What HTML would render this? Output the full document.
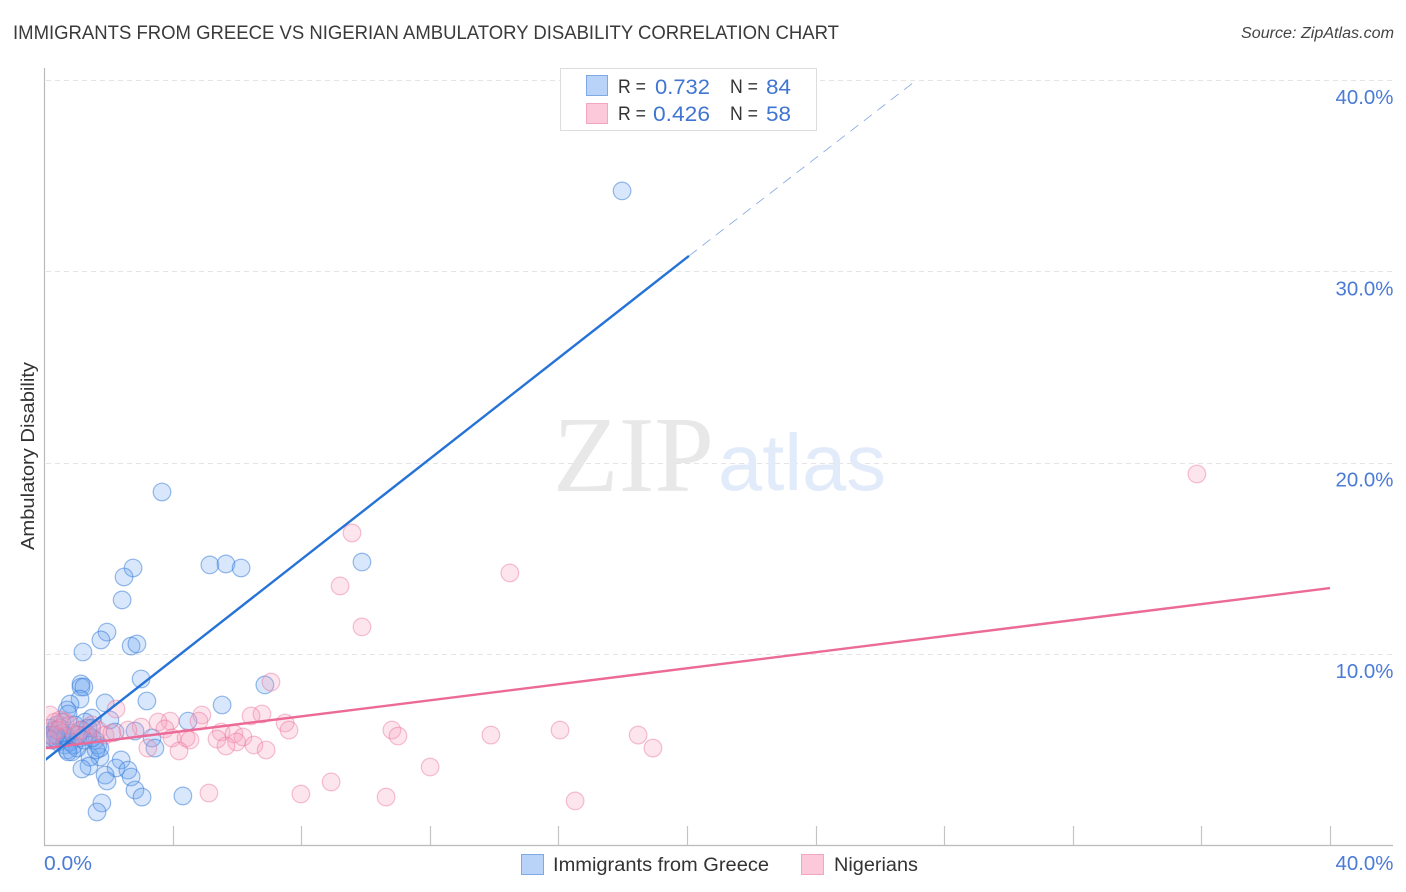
<!DOCTYPE html>
<html>
<head>
<meta charset="utf-8">
<title>Immigrants from Greece vs Nigerian Ambulatory Disability Correlation Chart</title>
<style>
html,body{margin:0;padding:0;background:#fff;}
svg{display:block;font-family:"Liberation Sans",sans-serif;}
</style>
</head>
<body>
<svg id="chart" xmlns="http://www.w3.org/2000/svg" width="1406" height="892" viewBox="0 0 1406 892">
  <defs><clipPath id="plot-clip"><rect x="46" y="60" width="1360" height="786"/></clipPath></defs>
  <rect x="0" y="0" width="1406" height="892" fill="#ffffff"/>
  <text x="13" y="39" font-size="19.5" fill="#3a3a3a" textLength="826" lengthAdjust="spacingAndGlyphs">IMMIGRANTS FROM GREECE VS NIGERIAN AMBULATORY DISABILITY CORRELATION CHART</text>
  <text x="1241" y="38" font-size="15.5" font-style="italic" fill="#444444" textLength="153" lengthAdjust="spacingAndGlyphs">Source: ZipAtlas.com</text>
  <g id="grid"></g>
  <g>
    <text x="553" y="491" font-family="'Liberation Serif',serif" font-size="108" fill="#e8e8e8" textLength="161" lengthAdjust="spacingAndGlyphs">ZIP</text>
    <text x="718" y="490" font-family="'Liberation Sans',sans-serif" font-size="80" fill="#e2ebfa" textLength="168" lengthAdjust="spacingAndGlyphs">atlas</text>
  </g>
  <g id="marks" clip-path="url(#plot-clip)"></g>
  <g id="axes"></g>
  <text transform="translate(34,456) rotate(-90)" font-size="18.5" fill="#333333" text-anchor="middle" textLength="188" lengthAdjust="spacingAndGlyphs">Ambulatory Disability</text>
  <g>
    <rect x="560.5" y="68.5" width="256" height="62" fill="#ffffff" stroke="#dddddd"/>
    <rect x="586.5" y="75.5" width="21" height="20" fill="#b8d3f7" stroke="#7fa9e6"/>
    <rect x="586.5" y="103.5" width="21" height="20" fill="#fcc9da" stroke="#f3a6c0"/>
    <text x="618" y="93" font-size="19" fill="#333333" textLength="28" lengthAdjust="spacingAndGlyphs">R =</text>
    <text x="655" y="94" font-size="21" fill="#4076d2" textLength="55" lengthAdjust="spacingAndGlyphs">0.732</text>
    <text x="730" y="93" font-size="19" fill="#333333" textLength="28" lengthAdjust="spacingAndGlyphs">N =</text>
    <text x="766" y="94" font-size="21" fill="#4076d2" textLength="25" lengthAdjust="spacingAndGlyphs">84</text>
    <text x="618" y="120" font-size="19" fill="#333333" textLength="28" lengthAdjust="spacingAndGlyphs">R =</text>
    <text x="653" y="121" font-size="21" fill="#4076d2" textLength="57" lengthAdjust="spacingAndGlyphs">0.426</text>
    <text x="730" y="120" font-size="19" fill="#333333" textLength="28" lengthAdjust="spacingAndGlyphs">N =</text>
    <text x="766" y="121" font-size="21" fill="#4076d2" textLength="25" lengthAdjust="spacingAndGlyphs">58</text>
  </g>
  <g>
    <rect x="521.5" y="854.5" width="22" height="20" fill="#b8d3f7" stroke="#7fa9e6"/>
    <text x="553" y="871" font-size="19" fill="#333333" textLength="216" lengthAdjust="spacingAndGlyphs">Immigrants from Greece</text>
    <rect x="801.5" y="854.5" width="22" height="20" fill="#fcc9da" stroke="#f3a6c0"/>
    <text x="834" y="871" font-size="19" fill="#333333" textLength="84" lengthAdjust="spacingAndGlyphs">Nigerians</text>
  </g>
</svg>
<script>
const yTickValues = [10, 20, 30, 40];
const yTickLabels = ["10.0%", "20.0%", "30.0%", "40.0%"];
const xTickValues = [4, 8, 12, 16, 20, 24, 28, 32, 36, 40];
const xEndValues = [0, 40];
const xEndLabels = ["0.0%", "40.0%"];
const greeceX = [17.98,3.67,9.89,5.16,5.66,6.13,2.77,2.49,2.43,1.96,1.77,2.71,2.89,1.21,3.02,6.87,1.15,1.15,1.24,1.12,3.2,1.9,5.54,0.81,0.72,0.75,4.48,2.05,1.49,3.36,3.45,2.21,2.83,2.4,1.74,1.43,2.24,1.4,1.18,2.61,2.71,1.9,1.96,2.83,3.05,4.32,1.8,1.65,0.19,0.25,0.34,0.4,0.5,0.56,0.65,0.72,0.81,0.87,0.96,1.03,1.12,1.18,1.28,1.37,1.49,1.59,1.68,1.74,1.62,1.37,0.93,0.5,0.31,0.19,0.44,0.68,0.87,1.24,1.49,0.75,1.06,0.56,0.37,0.12];
const greeceY = [34.2,18.47,14.81,14.66,14.71,14.5,14.5,14.03,12.83,11.15,10.74,10.42,10.53,10.11,8.7,8.39,8.44,8.28,8.28,7.65,7.55,7.45,7.34,7.39,7.08,6.87,6.5,6.56,6.66,5.62,5.09,5.93,5.98,4.47,4.62,4.62,4.05,4.15,4.0,3.94,3.58,3.68,3.37,2.9,2.53,2.59,2.22,1.75,5.77,5.51,6.03,6.3,5.62,6.45,5.25,4.99,5.41,5.88,6.3,5.09,5.62,6.03,6.45,5.77,6.14,5.51,5.25,5.09,4.99,6.14,5.25,6.14,5.62,6.14,5.41,5.72,4.89,5.51,5.62,4.89,5.77,5.88,5.77,5.62];
const nigeriansX = [35.86,9.58,14.49,9.21,9.89,7.06,2.24,6.78,6.44,4.91,4.82,3.92,3.55,7.5,7.62,3.02,2.61,3.76,10.82,11.01,13.9,16.05,18.48,18.94,5.51,5.91,6.19,5.38,5.99,5.66,6.53,6.91,3.98,4.42,4.54,4.2,3.23,12.01,8.93,7.99,5.13,10.64,16.52,0.19,0.34,0.5,0.65,0.25,0.19,0.81,0.96,1.12,1.28,1.49,1.68,1.9,2.11,0.44];
const nigeriansY = [19.41,16.33,14.24,13.56,11.42,8.54,7.13,6.87,6.77,6.82,6.5,6.5,6.45,6.4,6.03,6.19,6.03,6.09,6.03,5.72,5.77,6.03,5.77,5.09,5.93,5.83,5.67,5.56,5.41,5.2,5.25,4.99,5.62,5.62,5.51,4.94,5.09,4.1,3.32,2.69,2.74,2.53,2.33,6.82,6.45,6.56,6.45,5.77,5.51,6.3,5.77,6.03,5.77,6.3,6.03,5.77,5.88,6.03];
const greeceTrendX = [0, 20.06];
const greeceTrendY = [4.42, 30.8];
const greeceDashX = [20.06, 27.15];
const greeceDashY = [30.8, 40];
const nigeriansTrendX = [0, 40];
const nigeriansTrendY = [5.07, 13.45];

const NS = 'http://www.w3.org/2000/svg';
const xScale = v => 44 + v * 32.15;
const yScale = v => 845.5 - v * 19.14;
const grid = document.getElementById('grid');
const marks = document.getElementById('marks');
const axes = document.getElementById('axes');

function make(parent, tag, attrs, text) {
  const el = document.createElementNS(NS, tag);
  for (const k in attrs) el.setAttribute(k, attrs[k]);
  if (text !== undefined) el.textContent = text;
  parent.appendChild(el);
  return el;
}

yTickValues.forEach((v, i) => {
  const y = Math.round(yScale(v)) + 0.5;
  const line = make(grid, 'line', {x1: 46, x2: 1393, y1: y, y2: y, stroke: '#e4e4e4', 'stroke-width': 1, 'stroke-dasharray': '5 4'});
  
  
  const label = make(axes, 'text', {x: 1393.5, y: yScale(v) + 24, 'font-size': 20, fill: '#4a7bd6', 'text-anchor': 'end', textLength: 58, lengthAdjust: 'spacingAndGlyphs'}, yTickLabels[i]);
  
  
});

greeceX.forEach((v, i) => {
  const c = make(marks, 'circle', {cx: xScale(v), cy: yScale(greeceY[i]), r: 8.8, fill: 'rgba(110,165,240,0.27)', stroke: 'rgba(50,120,215,0.5)', 'stroke-width': 1.2});
  
  
});
nigeriansX.forEach((v, i) => {
  const c = make(marks, 'circle', {cx: xScale(v), cy: yScale(nigeriansY[i]), r: 8.8, fill: 'rgba(248,160,190,0.27)', stroke: 'rgba(235,115,155,0.45)', 'stroke-width': 1.2});
  
  
});

const pinkLine = make(marks, 'line', {x1: xScale(nigeriansTrendX[0]), y1: yScale(nigeriansTrendY[0]), x2: xScale(nigeriansTrendX[1]), y2: yScale(nigeriansTrendY[1]), stroke: '#ec6a97', 'stroke-width': 2.4});


const blueLine = make(marks, 'line', {x1: xScale(greeceTrendX[0]), y1: yScale(greeceTrendY[0]), x2: xScale(greeceTrendX[1]), y2: yScale(greeceTrendY[1]), stroke: '#2673d8', 'stroke-width': 2.4});


const blueDash = make(marks, 'line', {x1: xScale(greeceDashX[0]), y1: yScale(greeceDashY[0]), x2: xScale(greeceDashX[1]), y2: yScale(greeceDashY[1]), stroke: '#7fa5e2', 'stroke-width': 0.8, 'stroke-dasharray': '10 7'});



const yAxis = make(axes, 'line', {x1: 44.5, x2: 44.5, y1: 68, y2: 846, stroke: '#bbbbbb', 'stroke-width': 1.2});


const xAxis = make(axes, 'line', {x1: 44, x2: 1393, y1: 845.5, y2: 845.5, stroke: '#bbbbbb', 'stroke-width': 1.2});


xTickValues.forEach(v => {
  const x = Math.round(xScale(v)) + 0.5;
  const t = make(axes, 'line', {x1: x, x2: x, y1: 826, y2: 845, stroke: '#c4c4c4', 'stroke-width': 1.2});
  
  
});
xEndValues.forEach((v, i) => {
  const l = make(axes, 'text', {x: i === 0 ? xScale(v) : 1393.5, y: 870, 'font-size': 20, fill: '#4a7bd6', 'text-anchor': i === 0 ? 'start' : 'end', textLength: i === 0 ? 48 : 58, lengthAdjust: 'spacingAndGlyphs'}, xEndLabels[i]);
  
  
});
</script>
</body>
</html>
